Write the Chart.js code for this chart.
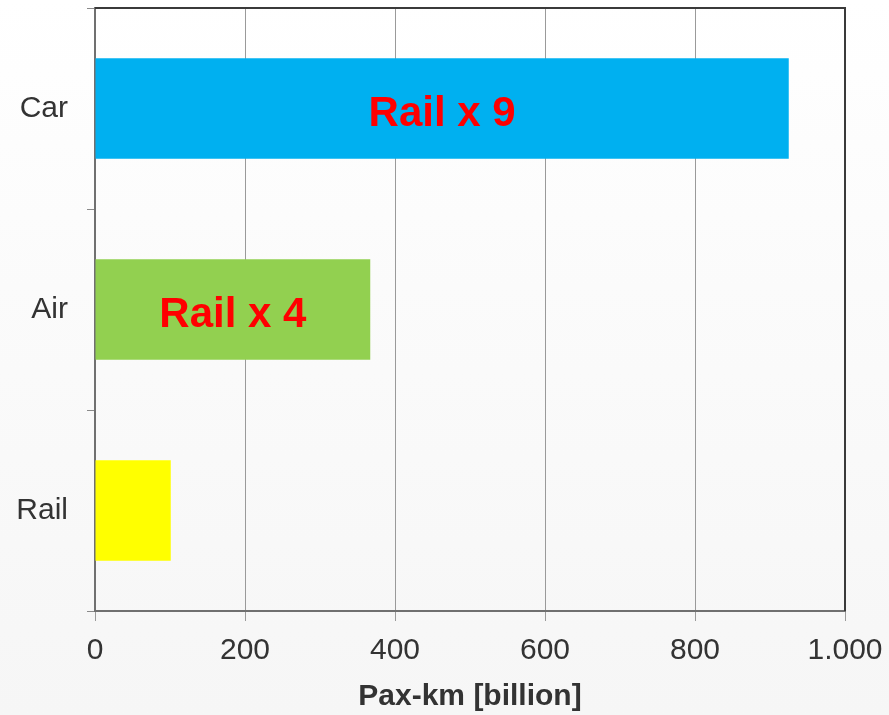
<!DOCTYPE html>
<html>
<head>
<meta charset="utf-8">
<script src="https://cdn.jsdelivr.net/npm/chart.js@4/dist/chart.umd.min.js"></script>
<style>
  html, body { margin: 0; padding: 0; }
  body { width: 889px; height: 715px; background: linear-gradient(#ffffff 0%, #fbfbfb 40%, #f6f6f6 100%); }
  #wrap { width: 889px; height: 715px; position: relative; }
</style>
</head>
<body>
<div id="wrap"><canvas id="modeChart" width="889" height="715"></canvas></div>
<script>
// data
const modes = ['Car', 'Air', 'Rail'];
const paxKm = [925, 367, 101];
const barColors = ['#00b0f0', '#92d050', '#ffff00'];
const barNotes = ['Rail x 9', 'Rail x 4', ''];
const xTicks = [0, 200, 400, 600, 800, 1000];

// 1000 -> "1.000"
function formatNum(v) {
    return String(v).replace(/\B(?=(\d{3})+(?!\d))/g, '.');
}

const frameAndNotes = {
    id: 'frameAndNotes',
    afterDatasetsDraw(chart) {
        const ctx = chart.ctx;
        const area = chart.chartArea;
        ctx.save();
        // dark top/right frame
        ctx.strokeStyle = '#3a3a3a';
        ctx.lineWidth = 2;
        ctx.beginPath();
        ctx.moveTo(area.left, area.top);
        ctx.lineTo(area.right, area.top);
        ctx.lineTo(area.right, area.bottom);
        ctx.stroke();

        // notes inside the bars
        const meta = chart.getDatasetMeta(0);
        ctx.fillStyle = '#ff0000';
        ctx.font = 'bold 42px "Liberation Sans", Arial, sans-serif';
        ctx.textAlign = 'center';
        ctx.textBaseline = 'middle';
        meta.data.forEach((bar, i) => {
            if (!barNotes[i]) return;
            const cx = (bar.x + bar.base) / 2;
            ctx.fillText(barNotes[i], cx, bar.y + 6);
        });
        ctx.restore();
    }
};

const ctx = document.getElementById('modeChart').getContext('2d');
new Chart(ctx, {
    type: 'bar',
    data: {
        labels: modes,
        datasets: [{
            data: paxKm,
            backgroundColor: barColors,
            borderWidth: 0,
            barPercentage: 0.5,
            categoryPercentage: 1.0
        }]
    },
    options: {
        indexAxis: 'y',
        responsive: false,
        animation: false,
        devicePixelRatio: 1,
        layout: { padding: { top: 8, right: 44, left: 0, bottom: 0 } },
        plugins: {
            legend: { display: false },
            tooltip: { enabled: false }
        },
        scales: {
            x: {
                min: 0,
                max: 1000,
                afterBuildTicks: (scale) => { scale.ticks = xTicks.map(v => ({ value: v })); },
                afterFit: (scale) => {
                    scale.height = 104;
                    scale.paddingLeft = 0;
                    scale.paddingRight = 0;
                },
                grid: { color: '#9a9a9a', lineWidth: 1, tickLength: 10 },
                border: { color: '#707070', width: 2 },
                ticks: {
                    color: '#333333',
                    padding: 12,
                    font: { family: '"Liberation Sans", Arial, sans-serif', size: 30 },
                    callback: (v) => formatNum(v)
                },
                title: {
                    display: true,
                    text: 'Pax-km [billion]',
                    color: '#333333',
                    padding: { top: 2, bottom: 0 },
                    font: { family: '"Liberation Sans", Arial, sans-serif', size: 30, weight: 'bold' }
                }
            },
            y: {
                afterFit: (scale) => {
                    scale.width = 95;
                    scale.paddingTop = 0;
                    scale.paddingBottom = 0;
                },
                grid: { offset: true, drawOnChartArea: false, color: '#8a8a8a', tickLength: 8 },
                border: { color: '#707070', width: 2 },
                ticks: {
                    color: '#333333',
                    padding: 19,
                    font: { family: '"Liberation Sans", Arial, sans-serif', size: 30 }
                }
            }
        }
    },
    plugins: [frameAndNotes]
});
</script>
</body>
</html>
